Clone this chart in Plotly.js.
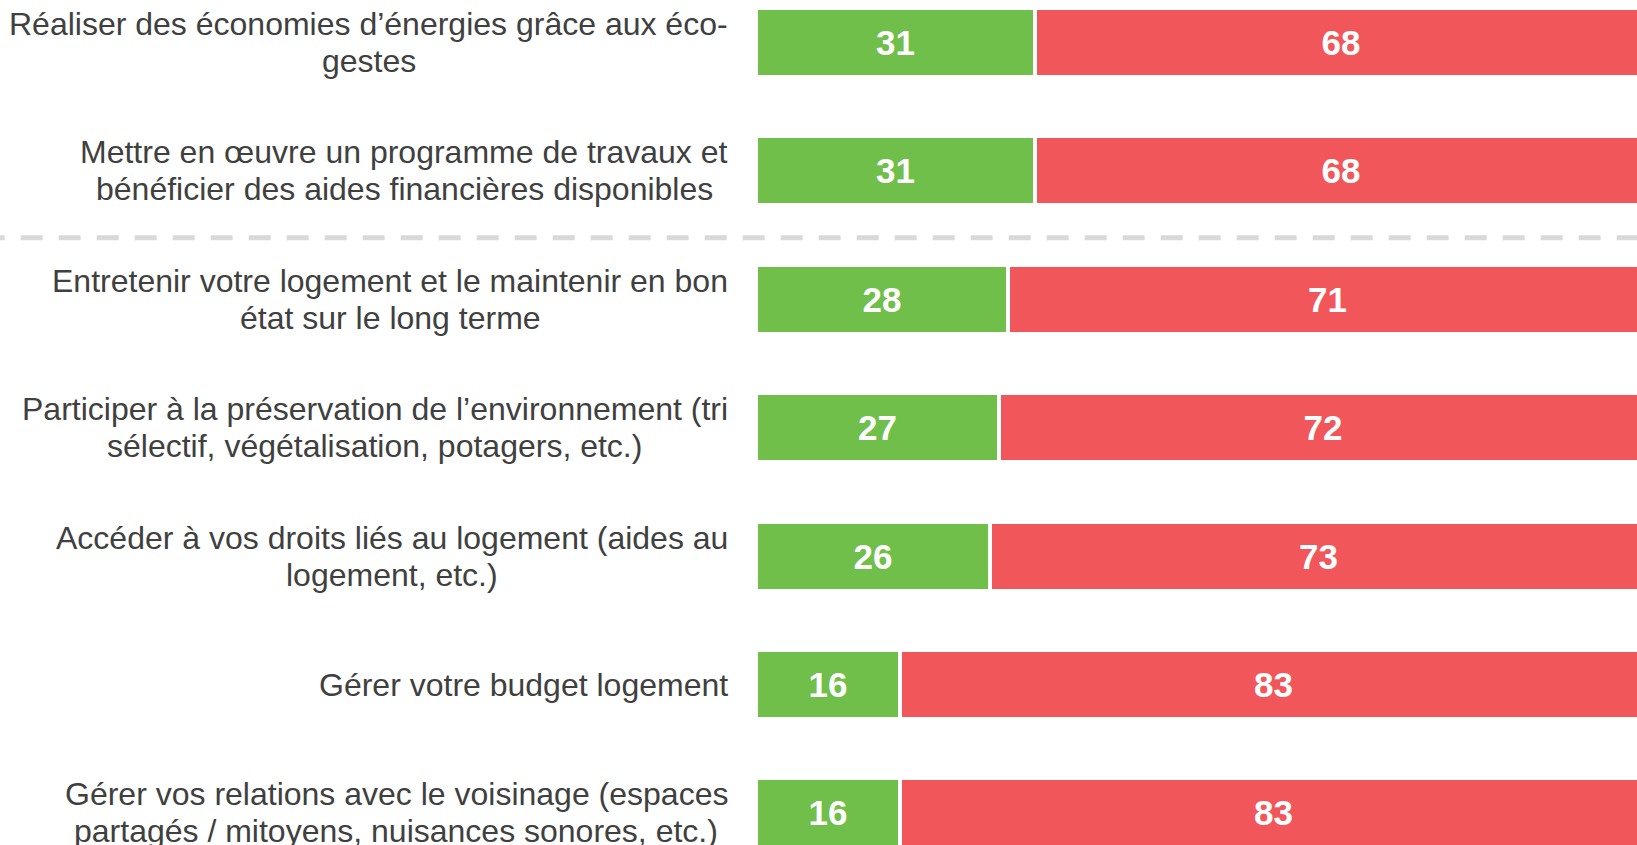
<!DOCTYPE html>
<html>
<head>
<meta charset="utf-8">
<script src="https://cdn.plot.ly/plotly-3.0.1.min.js"></script>
<style>
  html, body { margin: 0; padding: 0; background: #ffffff; }
  #chart { width: 1637px; height: 845px; }
</style>
</head>
<body>
<div id="chart"></div>
<script>
// ---- data ----
const categories = [
  "Réaliser des économies d’énergies grâce aux éco-<br>gestes",
  "Mettre en œuvre un programme de travaux et<br>bénéficier des aides financières disponibles",
  "Entretenir votre logement et le maintenir en bon<br>état sur le long terme",
  "Participer à la préservation de l’environnement (tri<br>sélectif, végétalisation, potagers, etc.)",
  "Accéder à vos droits liés au logement (aides au<br>logement, etc.)",
  "Gérer votre budget logement",
  "Gérer vos relations avec le voisinage (espaces<br>partagés / mitoyens, nuisances sonores, etc.)"
];
const greenValues = [31, 31, 28, 27, 26, 16, 16];
const redValues   = [68, 68, 71, 72, 73, 83, 83];

// ---- styling ----
const W = 1637, H = 845;
const GREEN = "#70BF4A";
const RED = "#F0565A";
const LABEL_COLOR = "#404040";
const FONT = "Liberation Sans, Arial, sans-serif";
const LABEL_SIZE = 32;
const LINE_GAP = 37;
const VALUE_SIZE = 35;
const LABEL_RIGHT_PX = 728;

const barCommon = {
  type: "bar",
  orientation: "h",
  y: categories,
  width: 0.54,
  textposition: "inside",
  insidetextanchor: "middle",
  constraintext: "none",
  textangle: 0,
  insidetextfont: { family: FONT, size: VALUE_SIZE, color: "#ffffff", weight: "bold" },
  hoverinfo: "none",
  showlegend: false
};

const traces = [
  Object.assign({}, barCommon, {
    x: greenValues,
    text: greenValues.map(String),
    marker: { color: GREEN, line: { color: "#ffffff", width: 4.3 } }
  }),
  Object.assign({}, barCommon, {
    x: redValues,
    text: redValues.map(String),
    marker: { color: RED, line: { color: "#ffffff", width: 4.3 } }
  })
];

// category labels: block right-aligned, lines centred inside the block
const ctx = document.createElement("canvas").getContext("2d");
ctx.font = LABEL_SIZE + "px 'Liberation Sans'";
const annotations = [];
categories.forEach(function (cat) {
  const lines = cat.split("<br>");
  const maxW = Math.max.apply(null, lines.map(function (l) { return ctx.measureText(l).width; }));
  const centerPx = LABEL_RIGHT_PX - maxW / 2;
  const n = lines.length;
  lines.forEach(function (line, j) {
    annotations.push({
      xref: "paper", x: centerPx / W, xanchor: "center",
      yref: "y", y: cat, yanchor: "middle",
      yshift: ((n - 1) / 2 - j) * LINE_GAP,
      text: line, showarrow: false, borderpad: 0,
      font: { family: FONT, size: LABEL_SIZE, color: LABEL_COLOR }
    });
  });
});

const layout = {
  width: W, height: H,
  margin: { l: 0, r: 0, t: 0, b: 0, pad: 0 },
  paper_bgcolor: "#ffffff",
  plot_bgcolor: "#ffffff",
  barmode: "stack",
  bargap: 0,
  xaxis: {
    domain: [756 / W, 1],
    range: [0, 881 / 9.0],
    visible: false, showgrid: false, zeroline: false, fixedrange: true
  },
  yaxis: {
    type: "category",
    categoryorder: "array",
    categoryarray: categories,
    range: [6.25, -0.331],
    showticklabels: false, showgrid: false, zeroline: false, showline: false,
    ticks: "", fixedrange: true
  },
  shapes: [{
    type: "line", layer: "below",
    xref: "paper", x0: -17.3 / W, x1: 1,
    yref: "y", y0: 1.52, y1: 1.52,
    line: { color: "#D9D9D9", width: 5, dash: "22px,16px" }
  }],
  annotations: annotations
};

Plotly.newPlot("chart", traces, layout, { displayModeBar: false, staticPlot: true });
</script>
</body>
</html>
